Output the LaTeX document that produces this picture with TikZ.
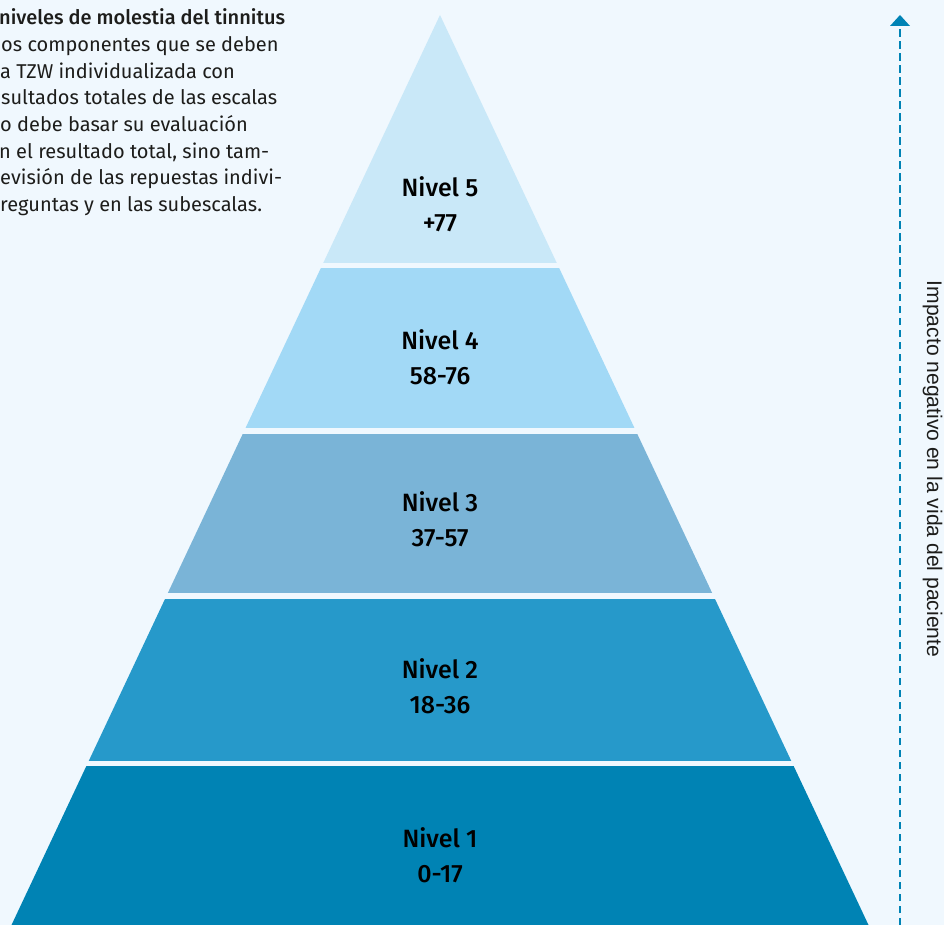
\documentclass[tikz,border=0pt]{standalone}
\usepackage{fontspec}
\setmainfont{Fira Sans}
\newfontfamily\medfont{Fira Sans Medium}
\newfontfamily\arialfont{Liberation Sans}
\usetikzlibrary{arrows.meta}
\definecolor{bg}{HTML}{F0F8FE}
\definecolor{cfive}{HTML}{C9E8F8}
\definecolor{cfour}{HTML}{A2D9F6}
\definecolor{cthree}{HTML}{7AB4D7}
\definecolor{ctwo}{HTML}{2699CA}
\definecolor{cone}{HTML}{0083B4}
\definecolor{arrc}{HTML}{0083B5}
\definecolor{txt}{HTML}{1D1D1B}
\begin{document}
\begin{tikzpicture}[x=1pt,y=-1pt,
  lvl/.style={font=\medfont\fontsize{25}{30}\selectfont, text=black, inner sep=0pt, anchor=base},
  para/.style={font=\fontsize{20}{26}\selectfont, text=txt, inner sep=0pt, anchor=base west},
  parahead/.style={para, font=\medfont\fontsize{20}{26}\selectfont},
  impact/.style={font=\arialfont\fontsize{21.1}{25}\selectfont, text=txt, inner sep=0pt, rotate=-90, anchor=base},
  axisline/.style={draw=arrc, line width=2.3pt, dash pattern=on 7.5pt off 4.5pt,
    -{Triangle[width=20pt,length=11pt,fill=arrc,line width=0pt]}}]
\useasboundingbox (0,0) rectangle (944,925);
\fill[bg] (0,0) rectangle (944,925);
\clip (0,0) rectangle (944,925);
% pyramid
\begin{scope}
  \clip (440,15) -- (11.5,925) -- (868.5,925) -- cycle;
  \fill[cfive]  (0,0)     rectangle (944,262.7);
  \fill[cfour]  (0,268.3) rectangle (944,428.3);
  \fill[cthree] (0,434)   rectangle (944,593.3);
  \fill[ctwo]   (0,599)   rectangle (944,760.7);
  \fill[cone]   (0,766)   rectangle (944,930);
\end{scope}
% level labels
\node[lvl] (l5a) at (440,197) {Nivel 5};
\node[lvl] (l5b) at (440,232) {+77};
\node[lvl] (l4a) at (440,349) {Nivel 4};
\node[lvl] (l4b) at (440,384) {58-76};
\node[lvl] (l3a) at (440,511) {Nivel 3};
\node[lvl] (l3b) at (440,546) {37-57};
\node[lvl] (l2a) at (440,678) {Nivel 2};
\node[lvl] (l2b) at (440,713) {18-36};
\node[lvl] (l1a) at (440,847) {Nivel 1};
\node[lvl] (l1b) at (440,882) {0-17};
% paragraph (cut at left edge)
\node[parahead] (p1) at (-1,25)    {niveles de molestia del tinnitus};
\node[para]     (p2) at (1,51.7)   {os componentes que se deben};
\node[para]     (p3) at (0,78.3)   {a TZW individualizada con};
\node[para]     (p4) at (1,105)    {sultados totales de las escalas};
\node[para]     (p5) at (0,131.7)  {o debe basar su evaluación};
\node[para]     (p6) at (-1,158.3) {n el resultado total, sino tam-};
\node[para]     (p7) at (0,185)    {evisión de las repuestas indivi-};
\node[para]     (p8) at (0,211.7)  {reguntas y en las subescalas.};
% axis
\coordinate (axbot) at (900,925);
\coordinate (axtop) at (900,15);
\draw[axisline] (axbot) -- (axtop);
\node[impact] (imp) at (927,469) {Impacto negativo en la vida del paciente};
\end{tikzpicture}
\end{document}
